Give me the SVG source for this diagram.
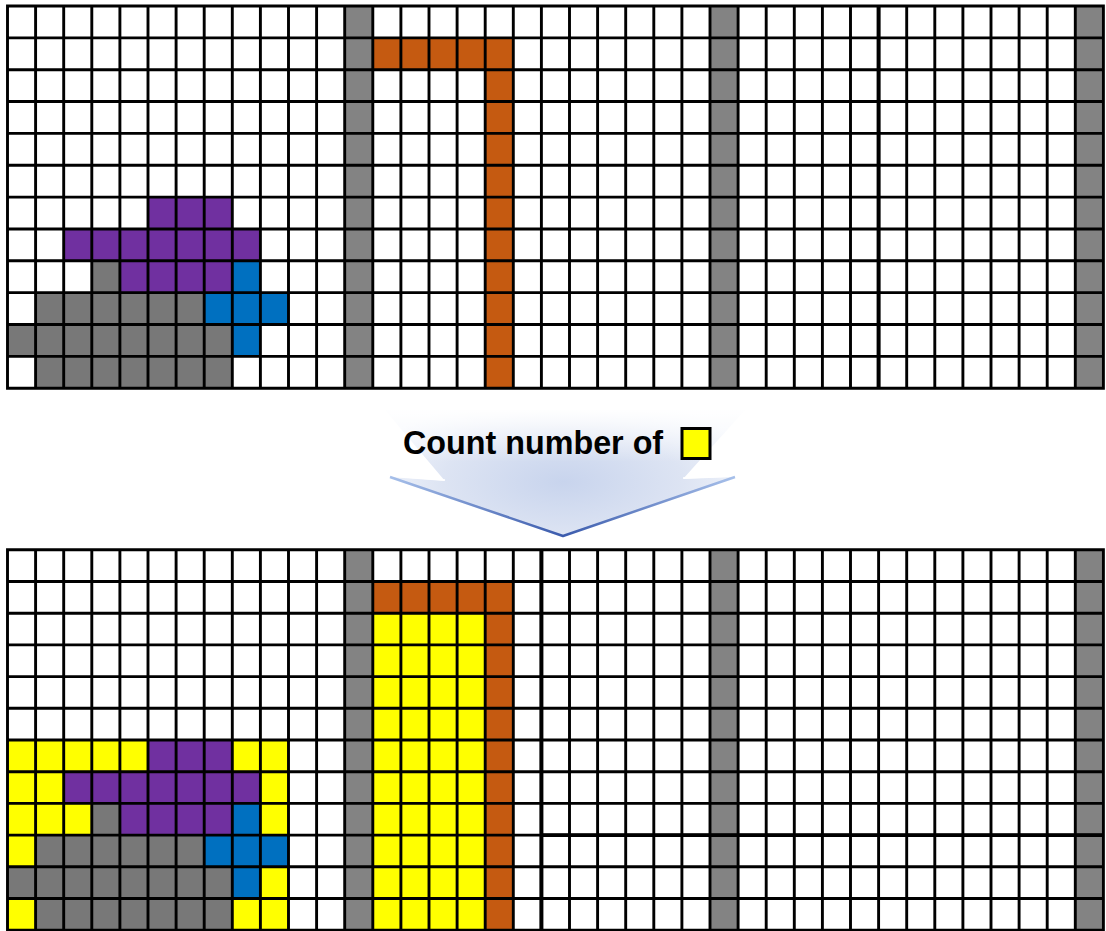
<svg xmlns="http://www.w3.org/2000/svg" width="1106" height="931" viewBox="0 0 1106 931">
<defs>
<style>
.g1{fill:#838383}
.g2{fill:#787878}
.pu{fill:#7030A0}
.bl{fill:#0070C0}
.or{fill:#C55A11}
.ye{fill:#FFFF00}
.lbl{font-family:"Liberation Sans",Arial,sans-serif;font-weight:bold;font-size:32.3px;fill:#000}
</style>
<g id="base-cells">
<rect x="0" y="0" width="39" height="12" fill="#fff"/>
<rect class="g1" x="12" y="0" width="1" height="12"/>
<rect class="g1" x="25" y="0" width="1" height="12"/>
<rect class="g1" x="38" y="0" width="1" height="12"/>
<rect class="or" x="13" y="1" width="5" height="1"/>
<rect class="or" x="17" y="1" width="1" height="11"/>
<rect class="pu" x="5" y="6" width="3" height="1"/>
<rect class="pu" x="2" y="7" width="7" height="1"/>
<rect class="pu" x="4" y="8" width="4" height="1"/>
<rect class="g2" x="3" y="8" width="1" height="1"/>
<rect class="g2" x="1" y="9" width="6" height="1"/>
<rect class="g2" x="0" y="10" width="8" height="1"/>
<rect class="g2" x="1" y="11" width="7" height="1"/>
<rect class="bl" x="8" y="8" width="1" height="1"/>
<rect class="bl" x="7" y="9" width="3" height="1"/>
<rect class="bl" x="8" y="10" width="1" height="1"/>
</g>
<path id="gridlines" fill="none" stroke="#000" stroke-width="2.9" stroke-linecap="square" vector-effect="non-scaling-stroke" d="M0 0V12M1 0V12M2 0V12M3 0V12M4 0V12M5 0V12M6 0V12M7 0V12M8 0V12M9 0V12M10 0V12M11 0V12M12 0V12M13 0V12M14 0V12M15 0V12M16 0V12M17 0V12M18 0V12M19 0V12M20 0V12M21 0V12M22 0V12M23 0V12M24 0V12M25 0V12M26 0V12M27 0V12M28 0V12M29 0V12M30 0V12M31 0V12M32 0V12M33 0V12M34 0V12M35 0V12M36 0V12M37 0V12M38 0V12M39 0V12M0 0H39M0 1H39M0 2H39M0 3H39M0 4H39M0 5H39M0 6H39M0 7H39M0 8H39M0 9H39M0 10H39M0 11H39M0 12H39"/>
<radialGradient id="arrowFill" gradientUnits="userSpaceOnUse" cx="563" cy="482" r="200" gradientTransform="translate(0 482) scale(1 0.45) translate(0 -482)">
<stop offset="0" stop-color="#c8d4ed"/>
<stop offset="0.6" stop-color="#dde4f3"/>
<stop offset="1" stop-color="#f3f6fc"/>
</radialGradient>
<linearGradient id="arrowFade" gradientUnits="userSpaceOnUse" x1="0" y1="408" x2="0" y2="462">
<stop offset="0" stop-color="#fff" stop-opacity="1"/>
<stop offset="1" stop-color="#fff" stop-opacity="0"/>
</linearGradient>
<linearGradient id="arrowEdge" gradientUnits="userSpaceOnUse" x1="390" y1="0" x2="735" y2="0">
<stop offset="0" stop-color="#a7c0ea"/>
<stop offset="0.5" stop-color="#3a5aac"/>
<stop offset="1" stop-color="#a7c0ea"/>
</linearGradient>
</defs>

<g id="top-grid" transform="translate(7.5 6) scale(28.1 31.85)">
<use href="#base-cells"/>
<use href="#gridlines"/>
<path fill="none" stroke="#000" stroke-width="4" vector-effect="non-scaling-stroke" d="M31 0V12"/>
</g>

<g id="arrow">
<path fill="url(#arrowFill)" d="M385 410 L445 481 L390 477 L563 536 L735 477 L683 479 L745 410 Z"/>
<path fill="url(#arrowFade)" d="M380 406 L445 481 L390 477 L563 536 L735 477 L683 479 L750 406 Z"/>
<path fill="none" stroke="#ffffff" stroke-width="1.5" d="M392 476 L445 480 M683 478 L733 476"/>
<path fill="none" stroke="url(#arrowEdge)" stroke-width="2.5" stroke-linejoin="round" d="M390 477 L563 536 L735 477"/>
</g>

<g id="label">
<text class="lbl" x="403" y="454">Count number of</text>
<rect x="682" y="428.5" width="28" height="30" fill="#FFFF00" stroke="#000" stroke-width="3"/>
</g>

<g id="bottom-grid" transform="translate(7.5 549.8) scale(28.1 31.7)">
<use href="#base-cells"/>
<rect class="ye" x="0" y="6" width="5" height="1"/>
<rect class="ye" x="8" y="6" width="2" height="1"/>
<rect class="ye" x="0" y="7" width="2" height="1"/>
<rect class="ye" x="9" y="7" width="1" height="1"/>
<rect class="ye" x="0" y="8" width="3" height="1"/>
<rect class="ye" x="9" y="8" width="1" height="1"/>
<rect class="ye" x="0" y="9" width="1" height="1"/>
<rect class="ye" x="9" y="10" width="1" height="1"/>
<rect class="ye" x="0" y="11" width="1" height="1"/>
<rect class="ye" x="8" y="11" width="2" height="1"/>
<rect class="ye" x="13" y="2" width="4" height="10"/>
<use href="#gridlines"/>
<path fill="none" stroke="#000" stroke-width="4" vector-effect="non-scaling-stroke" d="M19 0V12"/>
<path fill="none" stroke="#000" stroke-width="3.6" vector-effect="non-scaling-stroke" d="M19 9H39"/>
</g>
</svg>
